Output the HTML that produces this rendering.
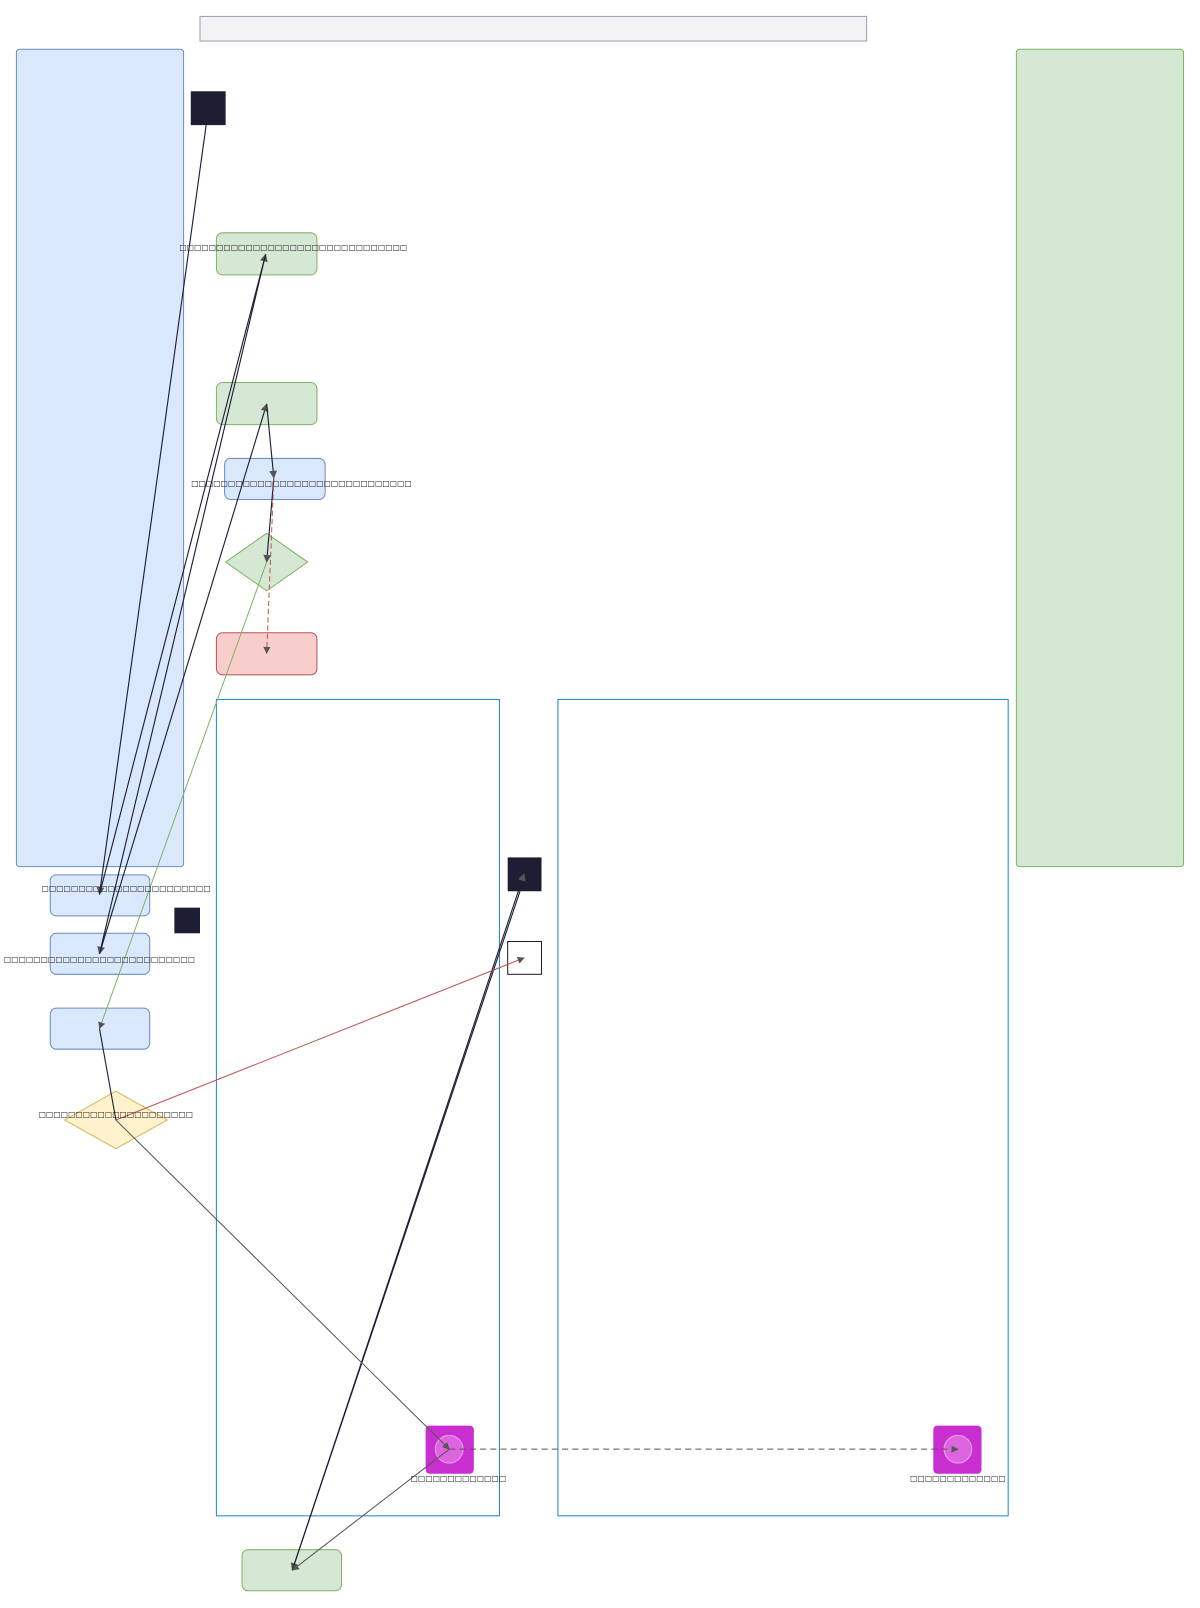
<!DOCTYPE html>
<html><head><meta charset="utf-8"><style>body{margin:0;background:#fff}svg{display:block}text{font-family:"DejaVu Sans","Liberation Sans",sans-serif;font-size:7.6px;fill:#222}</style></head><body>
<svg width="1200" height="1608" viewBox="0 0 1200 1608" xmlns="http://www.w3.org/2000/svg">
<defs><marker id="a" viewBox="0 0 10 10" refX="9" refY="5" markerWidth="7" markerHeight="7" orient="auto"><path d="M0,0L10,5L0,10z" fill="#555"/></marker></defs>
<g transform="scale(1.0256)">
<rect x="195" y="16" width="650" height="24" fill="#f3f3f6" stroke="#9aa0b0"/>
<rect x="16" y="48" width="163" height="797" rx="3" fill="#dae8fc" stroke="#6c8ebf"/>
<rect x="991" y="48" width="163" height="797" rx="3" fill="#d5e8d4" stroke="#82b366"/>
<rect x="211" y="682" width="276" height="796" fill="none" stroke="#1f87c8"/>
<rect x="544" y="682" width="439" height="796" fill="none" stroke="#1f87c8"/>
<rect x="186" y="89" width="34" height="33" fill="#1d1d33"/>
<rect x="170" y="885" width="25" height="25" fill="#1d1d33"/>
<rect x="495" y="836" width="33" height="33" fill="#1d1d33"/>
<rect x="495" y="918" width="33" height="32" fill="#fff" stroke="#1d1d33"/>
<rect x="211" y="227" width="98" height="41" rx="6" fill="#d5e8d4" stroke="#82b366"/>
<rect x="211" y="373" width="98" height="41" rx="6" fill="#d5e8d4" stroke="#82b366"/>
<rect x="219" y="447" width="98" height="40" rx="6" fill="#dae8fc" stroke="#6c8ebf"/>
<polygon points="260,520 300,548 260,576 220,548" fill="#d5e8d4" stroke="#82b366"/>
<rect x="211" y="617" width="98" height="41" rx="6" fill="#f8cecc" stroke="#b85450"/>
<rect x="49" y="853" width="97" height="40" rx="6" fill="#dae8fc" stroke="#6c8ebf"/>
<rect x="49" y="910" width="97" height="40" rx="6" fill="#dae8fc" stroke="#6c8ebf"/>
<rect x="49" y="983" width="97" height="40" rx="6" fill="#dae8fc" stroke="#6c8ebf"/>
<polygon points="113,1064 163,1092 113,1120 63,1092" fill="#fff2cc" stroke="#d6b656"/>
<rect x="236" y="1511" width="97" height="40" rx="6" fill="#d5e8d4" stroke="#82b366"/>
<rect x="415" y="1390" width="47" height="47" rx="4" fill="#c92fd0"/>
<circle cx="438" cy="1413" r="13.5" fill="#dd66e0" stroke="#e8a0ea"/>
<rect x="910" y="1390" width="47" height="47" rx="4" fill="#c92fd0"/>
<circle cx="934" cy="1413" r="13.5" fill="#dd66e0" stroke="#e8a0ea"/>
<g fill="none" stroke="#1d1d33" stroke-width="1.1">
<path d="M201,122L97,872" marker-end="url(#a)"/>
<path d="M97,872L259,248" marker-end="url(#a)"/>
<path d="M259,248L97,930" marker-end="url(#a)"/>
<path d="M97,930L260,394" marker-end="url(#a)"/>
<path d="M260,394L267,466" marker-end="url(#a)"/>
<path d="M267,466L260,548" marker-end="url(#a)"/>
<path d="M97,1003L113,1092"/>
<path d="M507,869L285,1531" marker-end="url(#a)"/>
<path d="M285,1531L511,852" marker-end="url(#a)"/>
</g>
<path d="M260,548L97,1003" fill="none" stroke="#82b366" marker-end="url(#a)"/>
<path d="M267,466L260,637" fill="none" stroke="#b85450" stroke-dasharray="5,3" marker-end="url(#a)"/>
<path d="M113,1092L511,934" fill="none" stroke="#b85450" marker-end="url(#a)"/>
<path d="M113,1092L438,1413" fill="none" stroke="#555" marker-end="url(#a)"/>
<path d="M438,1413L285,1531" fill="none" stroke="#555" marker-end="url(#a)"/>
<path d="M438,1413L934,1413" fill="none" stroke="#555" stroke-dasharray="6,4" marker-end="url(#a)"/>
<g text-anchor="middle">
<text x="286" y="244">□□□□□□□□□□□□□□□□□□□□□□□□□□□□□□□</text>
<text x="294" y="474">□□□□□□□□□□□□□□□□□□□□□□□□□□□□□□</text>
<text x="123" y="869">□□□□□□□□□□□□□□□□□□□□□□□</text>
<text x="97" y="938">□□□□□□□□□□□□□□□□□□□□□□□□□□</text>
<text x="113" y="1089">□□□□□□□□□□□□□□□□□□□□□</text>
<text x="447" y="1444">□□□□□□□□□□□□□</text>
<text x="934" y="1444">□□□□□□□□□□□□□</text>
</g>
</g>
</svg>
</body></html>
